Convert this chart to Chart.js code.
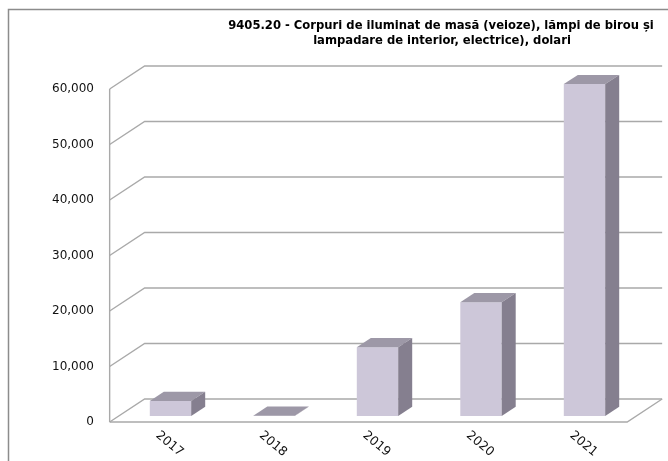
<!DOCTYPE html>
<html>
<head>
<meta charset="utf-8">
<style>
  html, body { margin: 0; padding: 0; background: #fff; }
  canvas { display: block; }
</style>
<script src="https://cdn.jsdelivr.net/npm/chart.js@4.4.0/dist/chart.umd.min.js"></script>
</head>
<body>
<canvas id="grafic" width="668" height="461"></canvas>
<script>
// date
const ani = ['2017', '2018', '2019', '2020', '2021'];
const valori = [2700, 40, 12400, 20500, 59800];
const etichetey = [0, 10000, 20000, 30000, 40000, 50000, 60000];
const titlu = [
    '9405.20 - Corpuri de iluminat de masă (veioze), lămpi de birou și',
    'lampadare de interior, electrice), dolari'
];

// culori
const corFata = '#cdc7d9';
const corSus = '#9d98a7';
const corLateral = '#857f8f';
const corGrila = '#a9a9a9';

// adancimea 3D (vectorul podelei) si pozitia barelor in adancime
const adancime = { dx: 35, dy: -23 };
const fractieFata = 0.26;   // planul barelor fata de marginea din fata
const fractieBara = 0.4;    // grosimea barei in adancime

const fmt = v => v.toLocaleString('en-US');

const plugin3d = {
    id: 'plugin3d',
    beforeDatasetsDraw(chart) {
        const ctx = chart.ctx;
        const x = chart.scales.x, y = chart.scales.y;
        const a = chart.chartArea;
        const fx = -fractieFata * adancime.dx, fy = -fractieFata * adancime.dy;
        const bx = (1 - fractieFata) * adancime.dx, by = (1 - fractieFata) * adancime.dy;

        ctx.save();
        // cadru
        ctx.strokeStyle = '#8c8c8c';
        ctx.lineWidth = 1.5;
        ctx.strokeRect(8.5, 9.5, 700, 500);

        // grila: perete lateral + perete din spate
        ctx.strokeStyle = corGrila;
        ctx.lineWidth = 1.4;
        etichetey.forEach(v => {
            const py = y.getPixelForValue(v);
            ctx.beginPath();
            ctx.moveTo(a.left + fx, py + fy);
            ctx.lineTo(a.left + bx, py + by);
            ctx.lineTo(a.right + bx, py + by);
            ctx.stroke();
        });
        // muchia din fata a peretelui
        ctx.beginPath();
        ctx.moveTo(a.left + fx, y.getPixelForValue(60000) + fy);
        ctx.lineTo(a.left + fx, y.getPixelForValue(0) + fy);
        ctx.stroke();
        // podeaua
        const p0 = y.getPixelForValue(0);
        ctx.beginPath();
        ctx.moveTo(a.left + fx, p0 + fy);
        ctx.lineTo(a.right + fx, p0 + fy);
        ctx.lineTo(a.right + bx, p0 + by);
        ctx.stroke();

        // etichete axa y
        ctx.fillStyle = '#111';
        ctx.font = '12px "DejaVu Sans"';
        ctx.textAlign = 'right';
        ctx.textBaseline = 'middle';
        etichetey.forEach(v => {
            ctx.fillText(fmt(v), 94, y.getPixelForValue(v) + fy);
        });

        // etichete axa x
        ctx.font = '12.5px "DejaVu Sans"';
        ctx.textAlign = 'center';
        ani.forEach((an, i) => {
            ctx.save();
            ctx.translate(x.getPixelForValue(i) - 1, 444);
            ctx.rotate(40 * Math.PI / 180);
            ctx.fillText(an, 0, 0);
            ctx.restore();
        });

        // titlu
        ctx.font = 'bold 11.6px "DejaVu Sans"';
        ctx.fillStyle = '#000';
        ctx.fillText(titlu[0], 441, 26);
        ctx.fillText(titlu[1], 442, 41);
        ctx.restore();
    },
    afterDatasetsDraw(chart) {
        const ctx = chart.ctx;
        const ddx = fractieBara * adancime.dx, ddy = fractieBara * adancime.dy;
        ctx.save();
        chart.getDatasetMeta(0).data.forEach(bar => {
            const st = bar.getProps(['x', 'y', 'base', 'width'], true);
            const l = st.x - st.width / 2, r = st.x + st.width / 2;
            // fata de sus
            ctx.fillStyle = corSus;
            ctx.beginPath();
            ctx.moveTo(l, st.y);
            ctx.lineTo(r, st.y);
            ctx.lineTo(r + ddx, st.y + ddy);
            ctx.lineTo(l + ddx, st.y + ddy);
            ctx.closePath();
            ctx.fill();
            // fata laterala
            ctx.fillStyle = corLateral;
            ctx.beginPath();
            ctx.moveTo(r, st.y);
            ctx.lineTo(r + ddx, st.y + ddy);
            ctx.lineTo(r + ddx, st.base + ddy);
            ctx.lineTo(r, st.base);
            ctx.closePath();
            ctx.fill();
        });
        ctx.restore();
    }
};

new Chart(document.getElementById('grafic'), {
    type: 'bar',
    data: {
        labels: ani,
        datasets: [{
            data: valori,
            backgroundColor: corFata,
            borderWidth: 0,
            barPercentage: 0.4,
            categoryPercentage: 1
        }]
    },
    options: {
        responsive: false,
        animation: false,
        layout: { padding: { left: 118.75, right: 31.75, top: 83, bottom: 45 } },
        plugins: {
            legend: { display: false },
            title: { display: false },
            tooltip: { enabled: false }
        },
        scales: {
            x: { display: false },
            y: { display: false, min: 0, max: 60000 }
        }
    },
    plugins: [plugin3d]
});
</script>
</body>
</html>
